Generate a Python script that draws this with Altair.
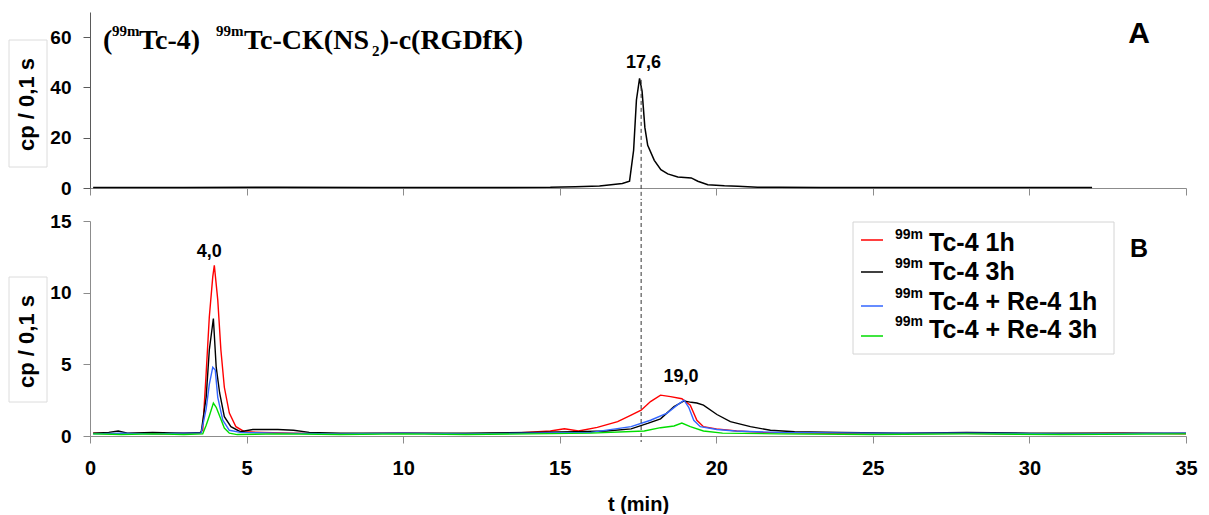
import altair as alt
import pandas as pd

# ---------------- data ----------------
X_TICKS = [0, 5, 10, 15, 20, 25, 30, 35]
YA_TICKS = [0, 20, 40, 60]
YB_TICKS = [0, 5, 10, 15]

# Panel A : 99mTc-CK(NS2)-c(RGDfK) reference trace
A_T = [0.1, 3, 6, 9, 12, 14.7, 15.5, 16.27, 16.64, 17.0, 17.23, 17.36, 17.45, 17.55, 17.63,
       17.72, 17.81, 18.02, 18.23, 18.45, 18.77, 19.2, 19.41, 19.73, 20.26, 20.69, 21.32,
       22, 23.34, 25, 28, 32]
A_V = [0.2, 0.2, 0.3, 0.2, 0.2, 0.25, 0.5, 0.8, 1.3, 1.8, 2.7, 15, 35, 43.6, 38.5,
       24, 17, 11, 7.3, 5.6, 4.4, 4.0, 2.7, 1.3, 0.9, 0.7, 0.3,
       0.25, 0.2, 0.15, 0.15, 0.15]

# Panel B series
RED_T = [0.1, 0.8, 1.5, 2.3, 3.0, 3.5, 3.6, 3.71, 3.81, 3.92, 3.97, 4.08, 4.18, 4.29, 4.45,
         4.66, 4.93, 5.5, 6.5, 8, 10, 12, 13.5, 14.7, 15.15, 15.6, 16.2, 16.85, 17.28, 17.6,
         17.9, 18.22, 18.54, 18.9, 19.17, 19.38, 19.59, 20.0, 20.65, 21.5, 23, 25, 27, 30, 33, 35]
RED_V = [0.2, 0.15, 0.2, 0.15, 0.2, 0.2, 0.4, 4.4, 8.3, 11.1, 11.9, 9.5, 6.0, 3.4, 1.6,
         0.65, 0.3, 0.25, 0.2, 0.15, 0.2, 0.15, 0.2, 0.35, 0.5, 0.35, 0.6, 1.0, 1.45, 1.8,
         2.4, 2.85, 2.75, 2.6, 2.15, 1.1, 0.65, 0.5, 0.35, 0.25, 0.2, 0.15, 0.2, 0.15, 0.2, 0.15]

BLK_T = [0.1, 0.6, 0.9, 1.2, 2.0, 3.0, 3.55, 3.71, 3.81, 3.94, 4.03, 4.14, 4.29, 4.5, 4.8,
         5.2, 5.6, 6.0, 6.5, 7.0, 8, 10, 12, 14, 15.5, 16.5, 17.28, 17.81, 18.22, 18.65,
         18.97, 19.2, 19.38, 19.59, 20.02, 20.45, 21.09, 21.73, 22.5, 24, 26, 28, 30, 32, 35]
BLK_V = [0.2, 0.25, 0.35, 0.2, 0.25, 0.2, 0.25, 2.7, 6.0, 8.2, 4.8, 3.0, 1.35, 0.65, 0.3,
         0.45, 0.45, 0.45, 0.4, 0.25, 0.2, 0.2, 0.2, 0.25, 0.3, 0.35, 0.5, 0.88, 1.2, 2.05,
         2.45, 2.35, 2.3, 2.15, 1.5, 1.0, 0.65, 0.4, 0.3, 0.25, 0.2, 0.25, 0.2, 0.2, 0.2]

BLU_T = [0.1, 1, 2, 3, 3.55, 3.71, 3.81, 3.92, 4.0, 4.08, 4.24, 4.45, 4.8, 6, 8, 10, 12, 14,
         16, 17.28, 17.9, 18.43, 18.75, 18.97, 19.12, 19.28, 19.49, 20.02, 20.6, 22, 25, 28, 31, 35]
BLU_V = [0.15, 0.2, 0.15, 0.2, 0.2, 1.9, 3.6, 4.8, 4.6, 2.7, 1.1, 0.4, 0.25, 0.2, 0.15, 0.2,
         0.15, 0.2, 0.25, 0.65, 1.1, 1.6, 2.15, 2.5, 2.0, 1.1, 0.65, 0.45, 0.35, 0.25, 0.2, 0.2, 0.15, 0.2]

GRN_T = [0.1, 1, 2, 3, 3.6, 3.71, 3.81, 3.94, 4.03, 4.14, 4.29, 4.45, 4.7, 6, 8, 10, 12, 14,
         16, 17.7, 18.22, 18.65, 18.9, 19.17, 19.59, 20.2, 22, 25, 28, 31, 35]
GRN_V = [0.15, 0.1, 0.15, 0.1, 0.15, 0.75, 1.4, 2.3, 2.0, 1.4, 0.55, 0.2, 0.1, 0.15, 0.1, 0.15,
         0.1, 0.15, 0.2, 0.35, 0.58, 0.7, 0.9, 0.65, 0.35, 0.2, 0.15, 0.1, 0.15, 0.1, 0.15]

SERIES_COLORS = ["#ff0000", "#000000", "#3366ff", "#00dd00"]
LEGEND_MAIN = ["Tc-4 1h", "Tc-4 3h", "Tc-4 + Re-4 1h", "Tc-4 + Re-4 3h"]
LEGEND_SUP = "99m"

PEAK_A = {"t": [17.55], "v": [43.6], "label": ["17,6"]}
PEAK_B1 = {"t": [4.0], "v": [11.9], "label": ["4,0"]}
PEAK_B2 = {"t": [19.0], "v": [2.5], "label": ["19,0"]}
DASH_T = [17.6]

# ---------------- layout ----------------
W = 1096
HA = 176
HB = 215
SANS = "Liberation Sans"
SERIF = "Liberation Serif"
GRAY = "#8c8c8c"

xscale = alt.Scale(domain=[0, 35], nice=False, zero=False)
ONE = pd.DataFrame({"k": [0]})  # single row for annotation marks


def x_enc(show_labels):
    if show_labels:
        ax = alt.Axis(values=X_TICKS, title="t (min)", tickSize=7, grid=False,
                      domainColor=GRAY, tickColor=GRAY, labelFont=SANS, labelFontSize=20,
                      labelFontWeight="bold", labelColor="black", labelPadding=15,
                      labelFlush=False, titleFont=SANS, titleFontSize=20,
                      titleFontWeight="bold", titleColor="black", titlePadding=16)
    else:
        ax = alt.Axis(values=X_TICKS, labels=False, title=None, tickSize=7, grid=False,
                      domainColor=GRAY, tickColor=GRAY)
    return alt.X("t:Q", scale=xscale, axis=ax)


def y_enc(domain, ticks, title_y, dcolor):
    ax = alt.Axis(values=ticks, title="cp / 0,1 s", tickSize=7, grid=False,
                  domainColor=dcolor, tickColor=dcolor, labelFont=SANS, labelFontSize=19,
                  labelFontWeight="bold", labelColor="black", labelPadding=12,
                  titleFont=SANS, titleFontSize=22, titleFontWeight="bold",
                  titleColor="black", titlePadding=11, titleY=title_y)
    return alt.Y("v:Q", scale=alt.Scale(domain=domain, nice=False), axis=ax)


def note(txt, px, py, fs, font=SANS, align="left"):
    return alt.Chart(ONE).mark_text(text=txt, font=font, fontSize=fs, fontWeight="bold",
                                    align=align, baseline="middle", color="black").encode(
        x=alt.value(px), y=alt.value(py))


# ---------- panel A ----------
dfA = pd.DataFrame({"t": A_T, "v": A_V})
yA = y_enc([0, 70], YA_TICKS, 92, "#5a5a5a")

lineA = alt.Chart(dfA).mark_line(color="black", strokeWidth=1.5).encode(x=x_enc(False), y=yA)

boxA = alt.Chart(ONE).mark_rect(fillOpacity=0, stroke="#dcdcdc", strokeWidth=1).encode(
    x=alt.value(-81), x2=alt.value(-43), y=alt.value(28), y2=alt.value(155))

dashA = alt.Chart(pd.DataFrame({"t": DASH_T, "v": [43.0]})).mark_rule(
    color="#333333", strokeDash=[4, 3], strokeWidth=1).encode(
    x="t:Q", y="v:Q", y2=alt.value(HA + 12))

peakA = alt.Chart(pd.DataFrame(PEAK_A)).mark_text(
    font=SANS, fontSize=18, fontWeight="bold", baseline="middle", dy=-15, dx=4).encode(
    x="t:Q", y="v:Q", text="label:N")

title_pieces = [
    ("(", 13, 29, 28), ("99m", 22, 19, 15), ("Tc-4)", 49, 29, 28),
    ("99m", 126, 19, 15), ("Tc-CK(NS", 154, 29, 28), ("2", 282, 39, 15),
    (")-c(RGDfK)", 290, 29, 28),
]
titleA = [note(txt, px, py, fs, font=SERIF) for txt, px, py, fs in title_pieces]
letterA = note("A", 1049, 22, 30, align="center")

panelA = alt.layer(boxA, lineA, dashA, peakA, letterA, *titleA).properties(width=W, height=HA)

# ---------- panel B ----------
yB = y_enc([0, 15], YB_TICKS, 120, GRAY)
series = [(RED_T, RED_V), (BLK_T, BLK_V), (BLU_T, BLU_V), (GRN_T, GRN_V)]
linesB = [
    alt.Chart(pd.DataFrame({"t": tt, "v": vv})).mark_line(color=c, strokeWidth=1.4).encode(
        x=x_enc(True), y=yB)
    for (tt, vv), c in zip(series, SERIES_COLORS)
]

boxB = alt.Chart(ONE).mark_rect(fillOpacity=0, stroke="#dcdcdc", strokeWidth=1).encode(
    x=alt.value(-81), x2=alt.value(-43), y=alt.value(56), y2=alt.value(181))

dashB = alt.Chart(pd.DataFrame({"t": DASH_T})).mark_rule(
    color="#333333", strokeDash=[4, 3], strokeWidth=1).encode(
    x="t:Q", y=alt.value(-19), y2=alt.value(HB + 6))

peakB1 = alt.Chart(pd.DataFrame(PEAK_B1)).mark_text(
    font=SANS, fontSize=18, fontWeight="bold", baseline="middle", dy=-13, dx=-6).encode(
    x="t:Q", y="v:Q", text="label:N")
peakB2 = alt.Chart(pd.DataFrame(PEAK_B2)).mark_text(
    font=SANS, fontSize=18, fontWeight="bold", baseline="middle", dy=-23, dx=-4).encode(
    x="t:Q", y="v:Q", text="label:N")

legend_box = alt.Chart(ONE).mark_rect(fill="white", stroke="#d4d4d4", strokeWidth=1).encode(
    x=alt.value(763), x2=alt.value(1024), y=alt.value(1), y2=alt.value(133))

text_y = [22, 51, 81, 109]
swatch_y = [19, 51, 85, 115]
legend_layers = []
for i in range(4):
    legend_layers.append(
        alt.Chart(ONE).mark_rule(color=SERIES_COLORS[i], strokeWidth=1.5).encode(
            x=alt.value(771), x2=alt.value(793), y=alt.value(swatch_y[i])))
    legend_layers.append(note(LEGEND_SUP, 805, text_y[i] - 8, 14))
    legend_layers.append(note(LEGEND_MAIN[i], 839, text_y[i], 25))

letterB = note("B", 1049, 28, 25, align="center")

panelB = alt.layer(boxB, *linesB, dashB, peakB1, peakB2, legend_box, *legend_layers,
                   letterB).properties(width=W, height=HB)

chart = alt.vconcat(panelA, panelB, spacing=0).properties(
    padding={"left": 0, "top": 4, "right": 0, "bottom": 0}, background="white"
).configure_view(stroke=None)

chart.save("out.html", embed_options={"renderer": "svg", "actions": False})
